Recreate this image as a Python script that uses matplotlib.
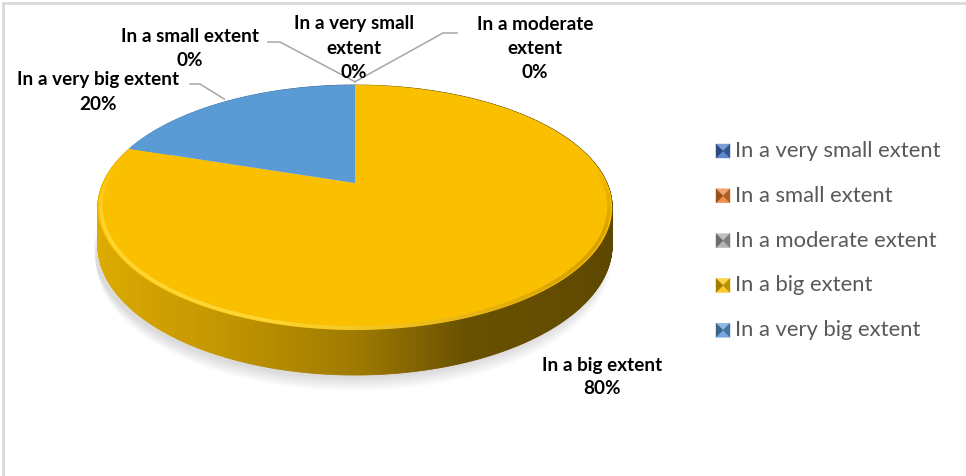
import numpy as np
import matplotlib
matplotlib.use('Agg')
import matplotlib.pyplot as plt
from matplotlib.patches import Polygon
from matplotlib.collections import PolyCollection, LineCollection

plt.rcParams['font.family'] = ['Lato', 'DejaVu Sans']

# data
categories = ['In a very small extent', 'In a small extent', 'In a moderate extent',
              'In a big extent', 'In a very big extent']
label_names = ['In a very small\nextent', 'In a small extent', 'In a moderate\nextent',
               'In a big extent', 'In a very big extent']
values = [0, 0, 0, 80, 20]
pct_labels = ['0%', '0%', '0%', '80%', '20%']
colors = ['#4472C4', '#ED7D31', '#A5A5A5', '#FAC000', '#5B9BD5']

# 3d pie geometry (pixels)
CX, CY = 355, 183
A, B, K = 252, 117.6, 0.2
DEPTH = 36


def proj(t, r=1.0, drop=0.0):
    u = r * np.cos(t)
    v = r * np.sin(t)
    w = 1 + K * v
    return CX + A * u / w, CY - (B * v - drop) / w


def to_rgb(c):
    return np.array(matplotlib.colors.to_rgb(c))


fig = plt.figure(figsize=(9.66, 4.76), dpi=100)
ax = fig.add_axes([0, 0, 1, 1])
ax.set_xlim(0, 966)
ax.set_ylim(476, 0)
ax.axis('off')

vals = np.array(values, dtype=float)
cum = np.concatenate([[0], np.cumsum(vals) / vals.sum()])
# excel style: start at 12 o'clock, clockwise
bounds = np.deg2rad(90 - 360 * cum)

# soft shadow under the pie
ts = np.linspace(0, 2 * np.pi, 721)
bx, by = proj(ts, drop=DEPTH)
for k in range(9):
    dy = 3 + k * 1.6
    ax.add_patch(Polygon(np.column_stack([bx - 4 + k * 0.3, by + dy]), closed=True,
                         facecolor='black', edgecolor='none', alpha=0.014, zorder=1))

# side of the pie
def slice_of(t):
    p = ((np.pi / 2 - t) % (2 * np.pi)) / (2 * np.pi)
    return min(np.searchsorted(cum, p, side='right') - 1, len(values) - 1)

mids = (ts[:-1] + ts[1:]) / 2
order = np.argsort(-np.sin(mids))
polys, fcs = [], []
for i in order:
    t0, t1 = ts[i], ts[i + 1]
    x0, y0 = proj(t0)
    x1, y1 = proj(t1)
    x2, y2 = proj(t1, drop=DEPTH)
    x3, y3 = proj(t0, drop=DEPTH)
    polys.append([(x0, y0), (x1, y1), (x2, y2), (x3, y3)])
    f = np.interp(np.cos(mids[i]), [-1, -0.5, 0, 0.35, 1], [0.9, 0.8, 0.64, 0.42, 0.37])
    fcs.append(np.clip(to_rgb(colors[slice_of(mids[i])]) * f, 0, 1))
ax.add_collection(PolyCollection(polys, facecolors=fcs, edgecolors=fcs, linewidths=0.6, zorder=2))

# top surface
for i, val in enumerate(values):
    if val == 0:
        continue
    tt = np.linspace(bounds[i], bounds[i + 1], 200)
    x, y = proj(tt)
    pts = np.vstack([[CX, CY], np.column_stack([x, y])])
    ax.add_patch(Polygon(pts, closed=True, facecolor=colors[i], edgecolor='none', zorder=3))

# bevel highlight along the front rim
tr = np.linspace(np.deg2rad(165), np.deg2rad(380), 300)
rx, ry = proj(tr, r=0.988)
segs = np.stack([np.column_stack([rx[:-1], ry[:-1]]), np.column_stack([rx[1:], ry[1:]])], axis=1)
tm = (tr[:-1] + tr[1:]) / 2
light = np.array([1.0, 0.86, 0.25])
dark = np.array([0.82, 0.6, 0.0])
wgt = np.clip((np.cos(tm) + 0.3) / 1.1, 0, 1)[:, None]
segcols = np.column_stack([light * (1 - wgt) + dark * wgt,
                           0.85 * np.clip(-np.sin(tm) * 2 + 0.3, 0, 1)])
ax.add_collection(LineCollection(segs, colors=segcols, linewidths=2.5, zorder=4))

# data labels
label_pos = [(354, 48), (190, 48), (535, 48), (602, 377), (98, 92)]
leader_start = {0: None, 1: [(268, 42), (280, 42)], 2: [(457, 33), (443, 33)],
                3: None, 4: [(190, 84), (200, 84)]}
for i in range(len(values)):
    ax.text(label_pos[i][0], label_pos[i][1], label_names[i] + '\n' + pct_labels[i],
            ha='center', va='center', multialignment='center', fontsize=13.6,
            fontweight='bold', color='black', linespacing=1.5, zorder=6)
    if leader_start[i] is not None:
        tmid = (bounds[i] + bounds[i + 1]) / 2
        ex, ey = proj(tmid, r=1.04 if values[i] == 0 else 1.03)
        pts = leader_start[i] + [(ex, ey)]
        ax.plot([p[0] for p in pts], [p[1] for p in pts], color='#A6A6A6', lw=1.1, zorder=5)

# legend
for i, name in enumerate(categories):
    ly = 151 + i * 44.8
    base = to_rgb(colors[i])
    x0, y0, s = 716, ly - 7, 14
    c = (x0 + s / 2, y0 + s / 2)
    tris = [([(x0, y0), (x0 + s, y0), c], np.clip(base * 0.7 + 0.3, 0, 1)),
            ([(x0, y0 + s), (x0 + s, y0 + s), c], np.clip(base * 0.85 + 0.15, 0, 1)),
            ([(x0, y0), (x0, y0 + s), c], base * 0.65),
            ([(x0 + s, y0), (x0 + s, y0 + s), c], base * 0.75)]
    for tri, col in tris:
        ax.add_patch(Polygon(tri, closed=True, facecolor=col, edgecolor=col, lw=0.3, zorder=5))
    ax.text(735, ly, name, ha='left', va='center', fontsize=15.8, color='#595959', zorder=5)

# chart area border (top and left visible)
ax.plot([3, 966], [3, 3], color='#D9D9D9', lw=2, zorder=7)
ax.plot([3, 3], [3, 476], color='#D9D9D9', lw=2, zorder=7)

fig.savefig('out.png', dpi=100)
